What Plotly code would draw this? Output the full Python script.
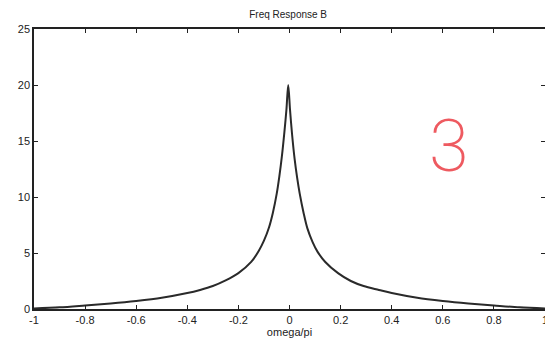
import plotly.graph_objects as go

# omega/pi values and magnitude
omega = [-1.0, -0.9, -0.8, -0.7, -0.6, -0.5, -0.4, -0.35, -0.3, -0.25, -0.2, -0.15, -0.12,
         -0.1, -0.08, -0.065, -0.05, -0.04, -0.03, -0.02, -0.012, -0.005,
         0.002, 0.01, 0.02, 0.03, 0.04, 0.055, 0.07, 0.09, 0.11, 0.14, 0.19,
         0.24, 0.29, 0.35, 0.4, 0.5, 0.6, 0.7, 0.8, 0.9, 1.0]
magnitude = [0.05, 0.15, 0.32, 0.5, 0.72, 1.0, 1.42, 1.7, 2.05, 2.55, 3.2, 4.2, 5.2,
             6.1, 7.3, 8.6, 10.3, 11.8, 13.6, 15.8, 17.8, 20.0,
             17.8, 15.6, 13.4, 11.7, 10.3, 8.6, 7.2, 6.0, 5.1, 4.2, 3.2,
             2.5, 2.05, 1.7, 1.42, 1.0, 0.72, 0.5, 0.32, 0.15, 0.05]

x_ticks = [-1, -0.8, -0.6, -0.4, -0.2, 0, 0.2, 0.4, 0.6, 0.8, 1]
x_tick_labels = ["-1", "-0.8", "-0.6", "-0.4", "-0.2", "0", "0.2", "0.4", "0.6", "0.8", "1"]
y_ticks = [0, 5, 10, 15, 20, 25]
y_tick_labels = ["0", "5", "10", "15", "20", "25"]

title_text = "Freq Response B"
x_label = "omega/pi"
note_text = "3"

fig = go.Figure()
fig.add_trace(go.Scatter(
    x=omega, y=magnitude, mode="lines",
    line=dict(color="#2a2a2a", width=2, shape="spline", smoothing=0.9),
    showlegend=False, hoverinfo="skip",
))

font = "Liberation Sans, Arial, Helvetica, sans-serif"
axis_common = dict(
    showgrid=False, zeroline=False, showline=True, linecolor="#222", linewidth=1.5,
    mirror="ticks", ticks="inside", ticklen=4, tickcolor="#222", tickwidth=1,
    tickfont=dict(family=font, size=11, color="#222"),
)
fig.update_layout(
    width=545, height=333,
    margin=dict(l=26, r=5, t=21, b=32),
    paper_bgcolor="white", plot_bgcolor="white",
    title=dict(text=title_text, x=0.514, xanchor="center", y=0.981, yanchor="middle",
               pad=dict(t=0, b=0),
               font=dict(family=font, size=10, color="#222")),
    xaxis=dict(range=[-1, 1], tickvals=x_ticks, ticktext=x_tick_labels,
               title=dict(text=x_label, standoff=0, font=dict(family=font, size=11, color="#222")),
               **axis_common),
    yaxis=dict(range=[0, 25], tickvals=y_ticks, ticktext=y_tick_labels,
               **axis_common),
    annotations=[dict(x=0.625, y=14.5, xref="x", yref="y", text=note_text, showarrow=False,
                      font=dict(family="Roboto, sans-serif", size=72, weight=200, color="#ee5a60"))],
)

fig.write_html("out.html")
